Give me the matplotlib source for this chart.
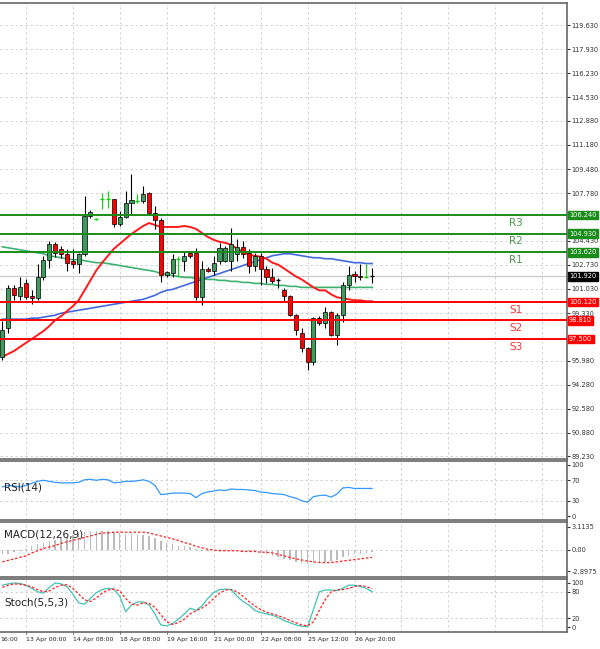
import matplotlib
matplotlib.use("Agg")
import matplotlib.pyplot as plt
import numpy as np

opens  = [96.24,98.27,101.07,100.51,101.42,100.51,100.37,101.84,103.09,104.21,103.86,103.51,103.02,102.82,103.51,106.17,105.96,107.36,107.38,107.36,105.61,106.10,107.08,107.22,107.22,107.78,106.38,105.89,101.98,102.12,103.09,103.02,103.58,103.58,100.44,102.47,102.33,103.02,103.02,103.02,103.51,104.00,103.58,102.68,103.37,102.47,101.84,101.70,100.93,100.51,99.18,97.92,96.87,95.89,98.97,98.62,99.39,97.78,99.18,101.28,102.05,101.91,101.84,101.92]
highs  = [98.80,101.28,101.28,101.84,101.70,100.93,102.82,103.37,104.42,104.35,104.07,103.86,103.86,103.58,107.57,106.60,106.05,107.78,107.92,107.40,106.52,107.92,109.10,107.71,108.27,107.85,106.87,106.03,102.30,103.50,103.37,103.72,103.72,103.93,103.02,102.55,103.37,104.28,104.07,105.33,104.56,104.42,103.86,103.58,103.58,102.68,102.54,101.77,101.07,100.60,99.25,98.27,96.94,99.04,99.10,99.74,99.50,99.30,101.49,102.68,102.33,102.82,102.82,102.54]
lows   = [96.00,97.92,100.23,100.23,100.30,100.00,100.23,101.63,102.54,103.30,103.23,102.33,102.54,102.12,103.37,106.00,105.90,106.66,106.73,105.40,105.47,106.00,106.31,107.08,107.08,106.30,105.26,101.50,101.90,101.84,101.84,102.33,103.23,100.23,99.88,102.20,101.98,102.82,102.90,102.33,103.02,103.23,102.12,102.33,101.28,101.42,101.42,101.07,100.09,99.10,97.78,96.60,95.33,95.70,98.50,98.27,97.70,97.08,98.69,100.93,101.49,101.63,101.77,101.42]
closes = [98.13,101.07,100.58,101.14,100.44,100.37,101.84,103.09,104.21,103.58,103.51,102.88,102.82,103.51,106.17,106.45,105.98,107.38,107.40,105.61,106.10,107.08,107.29,107.24,107.71,106.38,105.89,101.98,102.19,103.16,103.12,103.37,103.37,100.44,102.47,102.26,102.88,103.93,103.93,104.21,104.00,103.51,102.68,103.37,102.47,101.84,101.56,101.68,100.51,99.18,98.13,96.87,95.89,98.97,98.62,99.39,97.78,99.18,101.28,101.98,101.91,101.84,101.86,101.92]

ma_red = [96.24,96.45,96.66,96.94,97.22,97.50,97.78,98.06,98.41,98.83,99.11,99.46,99.81,100.23,100.93,101.63,102.33,102.88,103.37,103.86,104.21,104.56,104.91,105.19,105.47,105.68,105.54,105.40,105.40,105.40,105.40,105.47,105.40,105.26,104.98,104.70,104.49,104.35,104.28,104.14,103.86,103.65,103.44,103.37,103.30,103.16,102.88,102.74,102.47,102.19,101.91,101.70,101.42,101.14,100.93,100.93,100.65,100.44,100.37,100.30,100.23,100.23,100.16,100.16]
ma_blue = [98.90,98.90,98.90,98.90,98.90,98.97,98.97,99.04,99.11,99.18,99.32,99.39,99.46,99.53,99.60,99.67,99.74,99.81,99.88,99.95,100.02,100.09,100.16,100.23,100.30,100.44,100.58,100.79,100.93,101.00,101.14,101.28,101.42,101.56,101.70,101.84,101.98,102.12,102.26,102.40,102.54,102.68,102.82,102.95,103.09,103.23,103.37,103.44,103.51,103.51,103.44,103.37,103.30,103.23,103.23,103.16,103.16,103.09,103.02,102.95,102.88,102.88,102.82,102.82]
ma_green = [104.00,103.93,103.86,103.79,103.72,103.65,103.58,103.51,103.37,103.30,103.23,103.16,103.09,103.09,103.02,102.95,102.88,102.88,102.82,102.75,102.68,102.61,102.54,102.47,102.40,102.33,102.26,102.12,102.05,101.98,101.91,101.84,101.84,101.77,101.77,101.70,101.70,101.63,101.63,101.56,101.56,101.49,101.49,101.42,101.42,101.35,101.35,101.28,101.28,101.21,101.21,101.14,101.14,101.14,101.14,101.14,101.14,101.14,101.14,101.14,101.14,101.14,101.14,101.14]

rsi = [57,60,59,57,60,64,68,70,68,66,65,65,65,66,71,72,70,72,71,65,66,68,68,69,71,68,60,42,43,45,45,45,44,36,44,47,49,51,50,53,52,52,51,50,47,46,44,43,42,38,35,30,27,38,40,41,37,43,55,56,54,54,54,54]
macd_hist = [-0.6,-0.5,-0.3,-0.2,0.1,0.5,0.8,1.0,1.2,1.4,1.6,1.8,2.0,2.1,2.4,2.5,2.6,2.6,2.5,2.4,2.3,2.2,2.1,2.0,2.0,1.9,1.6,1.2,0.9,0.8,0.6,0.5,0.4,0.1,-0.1,-0.1,0.0,0.1,0.1,0.1,0.0,-0.1,-0.2,-0.3,-0.4,-0.6,-0.8,-1.0,-1.2,-1.4,-1.6,-1.8,-1.9,-1.8,-1.7,-1.6,-1.5,-1.3,-1.0,-0.8,-0.6,-0.5,-0.4,-0.3]
macd_signal = [-1.6,-1.4,-1.2,-1.0,-0.8,-0.4,-0.1,0.2,0.4,0.6,0.9,1.1,1.3,1.5,1.7,1.9,2.1,2.3,2.3,2.4,2.4,2.4,2.4,2.4,2.4,2.3,2.1,1.9,1.7,1.5,1.3,1.0,0.8,0.5,0.3,0.1,0.0,-0.1,-0.1,-0.1,-0.1,-0.2,-0.2,-0.2,-0.3,-0.3,-0.4,-0.6,-0.8,-1.0,-1.2,-1.35,-1.5,-1.6,-1.7,-1.7,-1.7,-1.6,-1.5,-1.4,-1.3,-1.2,-1.1,-1.0]
stoch_main = [95,98,100,99,95,88,80,77,90,100,98,92,75,55,52,65,78,85,88,86,70,35,50,57,57,50,30,5,3,8,18,30,43,38,48,65,78,85,86,85,70,58,50,38,33,30,27,22,15,10,5,2,1,40,80,84,84,83,88,95,95,92,88,80]
stoch_signal = [90,95,98,97,95,91,85,80,82,90,95,96,88,75,62,58,66,77,84,86,82,65,52,50,55,54,45,28,12,6,10,18,30,37,43,52,65,77,84,85,80,70,58,48,40,34,30,26,21,15,10,5,3,12,38,62,80,84,85,88,92,94,92,87]

price_ticks = [119.630,117.930,116.230,114.530,112.880,111.180,109.480,107.780,104.430,102.730,101.030,99.330,95.980,94.280,92.580,90.880,89.230]
levels = [("R3",106.240,"g"),("R2",104.930,"g"),("R1",103.620,"g"),("S1",100.120,"r"),("S2",98.810,"r"),("S3",97.500,"r")]
last_price = 101.920
date_labels = ["16:00","13 Apr 00:00","14 Apr 08:00","18 Apr 08:00","19 Apr 16:00","21 Apr 00:00","22 Apr 08:00","25 Apr 12:00","26 Apr 20:00"]
date_pos = [-4,4,12,20,28,36,44,52,60]

W, H = 600, 649
fig = plt.figure(figsize=(6, 6.49), dpi=100)
fig.patch.set_facecolor("white")
def ax_at(top, bottom):
    return fig.add_axes([0, 1 - bottom / H, 567 / W, (bottom - top) / H])

XL = (-0.4, 96.2)
ax = ax_at(3, 459)
a1 = ax_at(461, 520)
a2 = ax_at(522, 577)
a3 = ax_at(579, 632)
grid_x = np.arange(4, 97, 8)
GC = "#cccccc"
for a in (ax, a1, a2, a3):
    a.set_xlim(*XL)
    a.set_xticks([])
    a.spines["left"].set_visible(False)
    for s in ("right", "top", "bottom"):
        a.spines[s].set_color("#666666")
        a.spines[s].set_linewidth(1.2)
    for gx in grid_x:
        a.axvline(gx, color=GC, lw=0.6, ls=(0, (3, 3)), zorder=0)
    a.yaxis.tick_right()
    a.tick_params(axis="y", labelsize=4.8, length=2, pad=1.2, colors="#333333")

ax.set_ylim(89.04, 121.19)
ax.set_yticks(price_ticks)
ax.set_yticklabels([f"{v:.3f}" for v in price_ticks])
for v in price_ticks:
    ax.axhline(v, color=GC, lw=0.6, ls=(0, (3, 3)), zorder=0)
ax.axhline(last_price, color="#c8c8c8", lw=0.8, zorder=1)

x = np.arange(len(opens))
for i in x:
    o, h, l, c = opens[i], highs[i], lows[i], closes[i]
    if abs(c - o) < 0.04:
        col = "#00dd00" if c > o else "black"
        ax.vlines(i, l, h, color=col, lw=0.8, zorder=3)
        ax.hlines(c, i - 0.35, i + 0.35, color=col, lw=1, zorder=3)
        continue
    ax.vlines(i, l, h, color="black", lw=0.8, zorder=3)
    fc = "#3c9c5c" if c > o else "#ff0000"
    ax.bar(i, abs(c - o), bottom=min(o, c), width=0.7, color=fc, edgecolor="black", lw=0.5, zorder=4)

ax.plot(x, ma_green, color="#3cb371", lw=1.2, zorder=2)
ax.plot(x, ma_blue, color="#4169e1", lw=1.2, zorder=2)
ax.plot(x, ma_red, color="#ff1a1a", lw=1.4, zorder=2)

for name, val, c in levels:
    col = "#1a8c1a" if c == "g" else "#ff0000"
    tcol = "#4c9a4c" if c == "g" else "#ff3333"
    ax.axhline(val, color=col, lw=1.4, zorder=5)
    ax.text(1.0 + 2 / 567, val, f"{val:.3f}", transform=ax.get_yaxis_transform(), fontsize=4.8,
            color="white", va="center", ha="left",
            bbox=dict(boxstyle="square,pad=0.2", fc=col, ec=col), zorder=10, clip_on=False)
    ax.text(87.5, val - 0.55, name, color=tcol, fontsize=7.5, ha="center", va="center")
ax.text(1.0 + 2 / 567, last_price, f"{last_price:.3f}", transform=ax.get_yaxis_transform(), fontsize=4.8,
        color="white", va="center", ha="left",
        bbox=dict(boxstyle="square,pad=0.2", fc="black", ec="black"), zorder=10, clip_on=False)

a1.set_ylim(-7.8, 107.8)
a1.set_yticks([100, 70, 30, 0])
for v in (70, 30):
    a1.axhline(v, color=GC, lw=0.6, ls=(0, (3, 3)), zorder=0)
a1.plot(x, rsi, color="#3399ff", lw=0.9)
a1.text(4 / 567, 0.55, "RSI(14)", transform=a1.transAxes, fontsize=7.5, va="center", color="#222222")

a2.set_ylim(-3.65, 3.78)
a2.set_yticks([3.1135, 0.0, -2.8975])
a2.set_yticklabels(["3.1135", "0.00", "-2.8975"])
a2.axhline(0, color=GC, lw=0.6, ls=(0, (3, 3)), zorder=0)
a2.bar(x, macd_hist, width=0.25, color="#bbbbbb", zorder=1)
a2.plot(x, macd_signal, color="#ff2020", lw=0.9, ls=(0, (2, 1.5)), zorder=2)
a2.text(4 / 567, 0.78, "MACD(12,26,9)", transform=a2.transAxes, fontsize=7.5, va="center", color="#222222")

a3.set_ylim(-11, 109)
a3.set_yticks([100, 80, 20, 0])
for v in (80, 20):
    a3.axhline(v, color=GC, lw=0.6, ls=(0, (3, 3)), zorder=0)
a3.plot(x, stoch_main, color="#40c4b4", lw=0.9)
a3.plot(x, stoch_signal, color="#ff2020", lw=0.9, ls=(0, (2, 1.5)))
a3.text(4 / 567, 0.55, "Stoch(5,5,3)", transform=a3.transAxes, fontsize=7.5, va="center", color="#222222")

for p, lab in zip(date_pos, date_labels):
    xp = max(p + 0.1, -0.35)
    a3.text(xp, -0.14, lab, transform=a3.get_xaxis_transform(), fontsize=4.5, ha="left", va="center",
            color="#222222", clip_on=False)
    if p >= 0:
        a3.plot([p, p], [-11, -15], color="#666666", lw=0.6, clip_on=False)

fig.savefig("out.png", dpi=100, facecolor="white")
